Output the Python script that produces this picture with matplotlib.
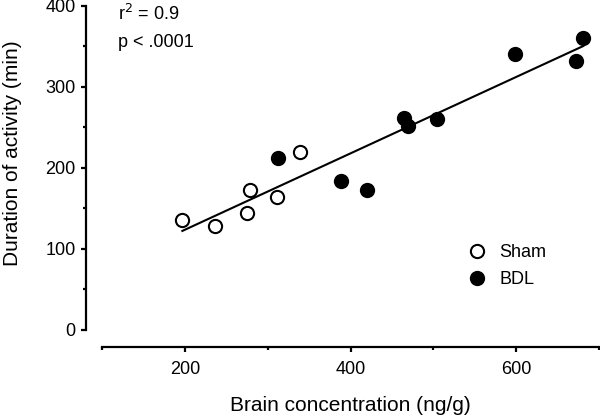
import numpy as np
import matplotlib
matplotlib.use("Agg")
import matplotlib.pyplot as plt
from matplotlib.ticker import MultipleLocator

plt.rcParams['font.family'] = ['Liberation Sans', 'DejaVu Sans']

# Sham group (open circles)
sham_x = [197, 237, 275, 279, 311, 339]
sham_y = [136, 128, 144, 172, 164, 219]

# BDL group (filled circles)
bdl_x = [312, 389, 420, 465, 470, 505, 599, 672, 681]
bdl_y = [212, 184, 173, 261, 252, 260, 340, 332, 360]

r2_text = "r$^2$ = 0.9"
p_text = "p < .0001"

fig = plt.figure(figsize=(6.0, 4.18), dpi=100)
W, H = 600, 418
ax = fig.add_axes([102 / W, 1 - 330 / H, 497 / W, 324.5 / H])

# regression line over the data range
all_x = np.array(sham_x + bdl_x, dtype=float)
all_y = np.array(sham_y + bdl_y, dtype=float)
k, b = np.polyfit(all_x, all_y, 1)
xl = np.array([all_x.min(), all_x.max()])
ax.plot(xl, k * xl + b, color='black', lw=1.5, zorder=2)

ax.plot(sham_x, sham_y, 'o', ms=9.5, mfc='white', mec='black', mew=1.5,
        ls='none', label='Sham', clip_on=False, zorder=3)
ax.plot(bdl_x, bdl_y, 'o', ms=9.5, mfc='black', mec='black', mew=1.5,
        ls='none', label='BDL', clip_on=False, zorder=3)

ax.set_xlim(100, 700)
ax.set_ylim(0, 400)

for s in ['top', 'right']:
    ax.spines[s].set_visible(False)
ax.spines['left'].set_position(('outward', 11.5))
ax.spines['bottom'].set_position(('outward', 12))
ax.spines['left'].set_bounds(0, 400)
ax.spines['bottom'].set_bounds(100, 700)
for s in ['left', 'bottom']:
    ax.spines[s].set_linewidth(1.6)

ax.set_xticks([200, 400, 600])
ax.xaxis.set_minor_locator(MultipleLocator(100))
ax.yaxis.set_major_locator(MultipleLocator(100))
ax.yaxis.set_minor_locator(MultipleLocator(50))
ax.tick_params(which='major', length=3.5, width=1.6, labelsize=13)
ax.tick_params(which='minor', length=2, width=1.6)
ax.tick_params(axis='x', which='major', pad=7)
ax.tick_params(axis='y', which='major', pad=4)

ax.set_xlabel("Brain concentration (ng/g)", fontsize=15, va='top')
ax.xaxis.set_label_coords((350 - 102) / 497, (330 - 396) / 324.5)
ax.set_ylabel("Duration of activity (min)", fontsize=15, va='center')
ax.yaxis.set_label_coords((12 - 102) / 497, (330 - 153) / 324.5)

fig.text(118 / W, 1 - 20 / H, r2_text, fontsize=13, ha='left', va='baseline')
fig.text(118 / W, 1 - 47 / H, p_text, fontsize=13, ha='left', va='baseline')

ax.legend(loc='upper left', bbox_to_anchor=(468 / W, 1 - 244 / H),
          bbox_transform=fig.transFigure, frameon=False, fontsize=13,
          handlelength=1.0, handletextpad=0.75, labelspacing=0.55,
          borderpad=0, borderaxespad=0)

fig.savefig("out.png", dpi=100)
